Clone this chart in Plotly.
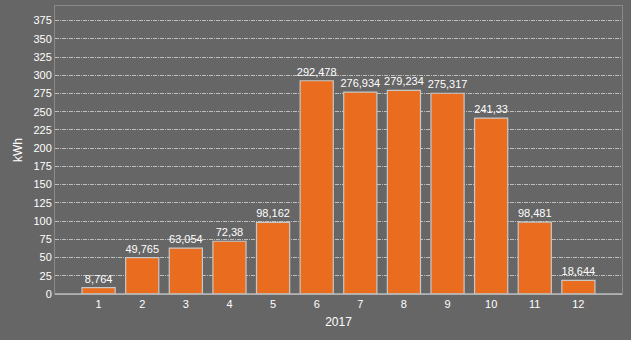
import plotly.graph_objects as go

months = [1, 2, 3, 4, 5, 6, 7, 8, 9, 10, 11, 12]
values = [8.764, 49.765, 63.054, 72.38, 98.162, 292.478, 276.934, 279.234, 275.317, 241.33, 98.481, 18.644]
labels = ["8,764", "49,765", "63,054", "72,38", "98,162", "292,478", "276,934", "279,234", "275,317", "241,33", "98,481", "18,644"]
yticks = list(range(0, 400, 25))

fig = go.Figure(go.Bar(
    x=months, y=values, text=labels, textposition="outside", constraintext="none",
    textfont=dict(color="#ffffff", size=11, family="Liberation Sans, Arial"),
    marker=dict(color="#E96C1F", line=dict(color="#c8c8c8", width=1.2)),
    width=0.76, cliponaxis=False,
))
fig.update_layout(
    width=631, height=340, paper_bgcolor="#666666", plot_bgcolor="#666666",
    margin=dict(l=55, r=9, t=6, b=46), showlegend=False,
    font=dict(family="Liberation Sans, Arial", size=11, color="#ffffff"),
    xaxis=dict(range=[0, 13], tickvals=months, showgrid=False, zeroline=False,
               showline=True, linecolor="#8a8a8a", mirror=True, ticks="",
               title=dict(text="2017", font=dict(size=12), standoff=8)),
    yaxis=dict(range=[0, 395], tickvals=yticks, showgrid=True, gridcolor="#bdbdbd",
               griddash="4px,1px,1px,1px", gridwidth=1, zeroline=False,
               showline=True, linecolor="#8a8a8a", mirror=True, ticks="",
               title=dict(text="kWh", font=dict(size=12), standoff=8)),
)
fig.add_shape(type="line", xref="paper", yref="paper", x0=0, x1=1, y0=0, y1=0,
              line=dict(color="#bdbdbd", width=1.5))
fig.write_html("out.html")
